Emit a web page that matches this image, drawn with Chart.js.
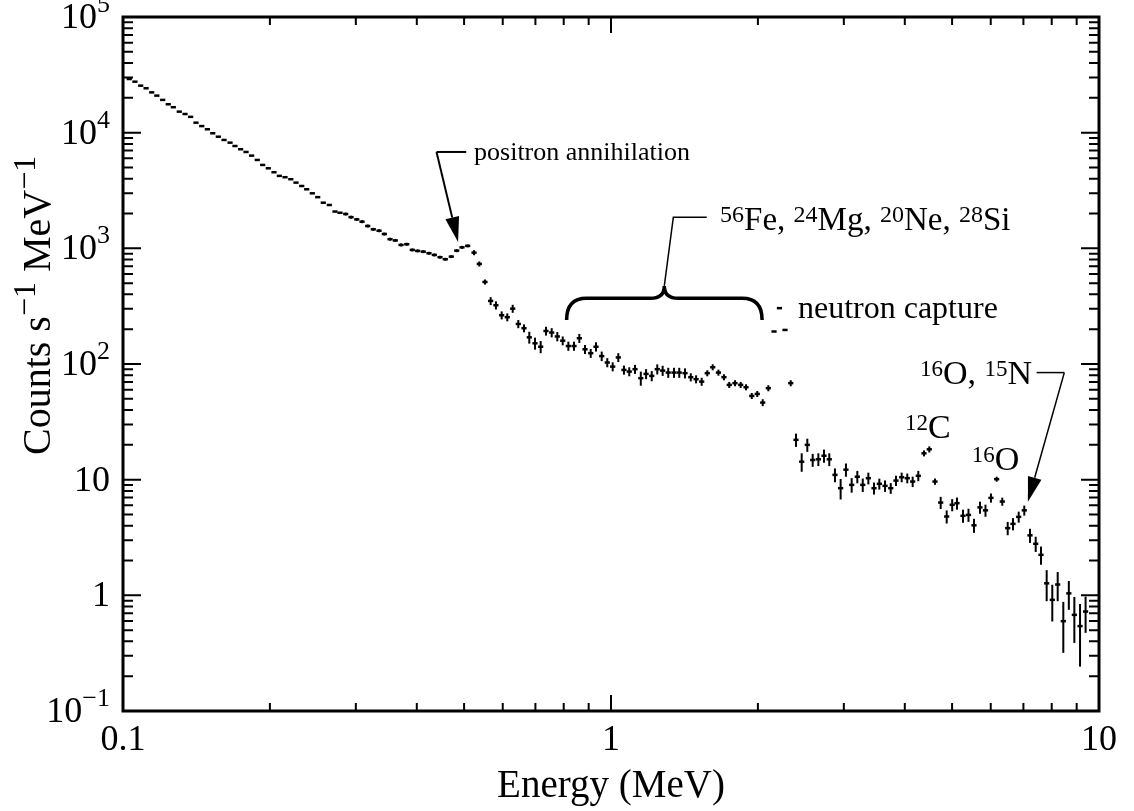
<!DOCTYPE html>
<html>
<head>
<meta charset="utf-8">
<script src="https://cdn.jsdelivr.net/npm/chart.js@4.4.0/dist/chart.umd.min.js"></script>
<style>
  body { margin: 0; background: #fff; }
</style>
</head>
<body>
<canvas id="spectrum" width="1134" height="811"></canvas>
<script>
// Energy bin centres (MeV)
const energy = [
  0.103, 0.1058, 0.1087, 0.1115, 0.1145, 0.1173, 0.1206, 0.1238, 0.1268, 0.1304,
  0.134, 0.1376, 0.1411, 0.145, 0.1489, 0.1527, 0.1568, 0.1611, 0.1657, 0.1696,
  0.1742, 0.1787, 0.1835, 0.1884, 0.1933, 0.1985, 0.2039, 0.2091, 0.2148, 0.2207,
  0.2262, 0.2324, 0.2379, 0.2443, 0.2506, 0.2573, 0.2647, 0.2719, 0.2784, 0.286,
  0.2933, 0.3013, 0.3089, 0.3173, 0.3258, 0.3347, 0.3432, 0.3525, 0.3614, 0.3713,
  0.3814, 0.3916, 0.4017, 0.4124, 0.4236, 0.4345, 0.4463, 0.4576, 0.4707, 0.4829,
  0.4951, 0.5085, 0.524, 0.5372, 0.5517, 0.5667, 0.581, 0.597, 0.613, 0.6289,
  0.6457, 0.6633, 0.6801, 0.6987, 0.7176, 0.7358, 0.7559, 0.7762, 0.7963, 0.8177,
  0.8399, 0.8612, 0.8846, 0.9087, 0.9317, 0.9571, 0.9826, 1.008, 1.035, 1.063,
  1.09, 1.12, 1.151, 1.18, 1.212, 1.244, 1.276, 1.31, 1.346, 1.38,
  1.418, 1.457, 1.494, 1.534, 1.575, 1.616, 1.66, 1.704, 1.747, 1.795,
  1.844, 1.891, 1.943, 1.994, 2.046, 2.101, 2.158, 2.214, 2.273, 2.335,
  2.394, 2.459, 2.525, 2.59, 2.66, 2.732, 2.801, 2.877, 2.955, 3.03,
  3.113, 3.197, 3.28, 3.368, 3.459, 3.547, 3.644, 3.743, 3.837, 3.941,
  4.047, 4.151, 4.263, 4.379, 4.49, 4.612, 4.738, 4.874, 5.002, 5.117,
  5.264, 5.402, 5.544, 5.703, 5.853, 6.006, 6.17, 6.336, 6.5, 6.665,
  6.846, 7.029, 7.221, 7.418, 7.605, 7.812, 8.022, 8.229, 8.45, 8.673,
  8.902, 9.144, 9.387
];

// Count rate (counts s^-1 MeV^-1)
const counts = [
  29100, 27600, 25500, 24200, 22300, 20900, 19200, 17600, 16600, 15200,
  14500, 13700, 12200, 11400, 10700, 9880, 9230, 8650, 8200, 7670,
  7190, 6810, 6330, 5810, 5260, 4920, 4550, 4230, 4120, 3960,
  3700, 3460, 3240, 2990, 2770, 2480, 2370, 2080, 2030, 1980,
  1860, 1780, 1700, 1560, 1460, 1420, 1330, 1200, 1170, 1070,
  1085, 969, 950, 936, 907, 877, 838, 805, 848, 955,
  1020, 1050, 918, 733, 512, 351, 322, 264, 254, 301,
  222, 204, 170, 151, 141, 193, 187, 173, 159, 143,
  143, 167, 134, 124, 141, 117, 103, 94.9, 114, 88.9,
  86.0, 90.2, 75.4, 82.1, 78.9, 90.2, 87.7, 84.3, 84.3, 84.3,
  83.3, 76.9, 73.9, 70.4, 83.3, 93.8, 84.3, 76.9, 66.0, 68.3,
  66.0, 63.0, 53.0, 55.1, 46.4, 61.8, 191, 304, 197, 68.3,
  22.1, 14.3, 20.0, 14.8, 15.0, 16.1, 15.0, 11.0, 8.44, 12.2,
  9.02, 10.6, 9.02, 10.3, 8.44, 9.20, 8.84, 8.44, 9.82, 10.5,
  10.3, 9.63, 10.8, 16.9, 18.3, 9.63, 6.34, 4.80, 6.06, 6.26,
  4.87, 4.96, 4.03, 5.76, 5.43, 6.96, 10.1, 6.47, 3.81, 4.15,
  4.77, 5.43, 3.30, 2.79, 2.24, 1.27, 0.914, 1.24, 0.598, 1.04,
  0.678, 0.542, 0.724
];

// 1-sigma uncertainty on each rate
const sigma = [
  291, 276, 255, 242, 223, 209, 192, 176, 166, 152,
  145, 137, 122, 114, 107, 99, 92, 87, 82, 77,
  72, 68, 63, 58, 53, 49, 46, 42, 41, 40,
  37, 35, 32, 30, 28, 25, 24, 21, 20, 59,
  56, 53, 51, 47, 44, 43, 40, 36, 35, 32,
  33, 29, 29, 28, 27, 26, 25, 24, 25, 29,
  31, 32, 46, 37, 26, 28, 26, 21, 20, 24,
  18, 16, 20, 18, 17, 17, 17, 16, 14, 13,
  13, 15, 12, 11, 13, 11, 9.3, 8.5, 10, 8.0,
  7.7, 8.1, 10.5, 8.2, 7.9, 9.0, 8.8, 8.4, 8.4, 8.4,
  8.3, 6.2, 5.9, 5.6, 5.0, 5.6, 5.1, 4.6, 4.0, 4.1,
  4.0, 3.8, 3.2, 3.3, 3.2, 3.7, 2, 3, 2, 4.1,
  2.9, 2.6, 2.6, 1.9, 1.9, 2.1, 1.9, 1.5, 1.7, 1.6,
  1.3, 1.3, 1.2, 1.2, 1.0, 1.0, 1.0, 0.9, 1.0, 1.0,
  1.0, 1.0, 1.1, 1.0, 1.1, 0.6, 0.76, 0.62, 0.73, 0.75,
  0.63, 0.64, 0.56, 0.69, 0.65, 0.63, 0.5, 0.52, 0.50, 0.50,
  0.52, 0.54, 0.46, 0.42, 0.40, 0.38, 0.32, 0.35, 0.28, 0.29,
  0.29, 0.30, 0.25
];

// axis ticks
const xTicks = [0.1, 1, 10];
const xTickLabels = ['0.1', '1', '10'];
const yTicks = [1e5, 1e4, 1e3, 100, 10, 1, 0.1];
const yTickLabels = [['10', '5'], ['10', '4'], ['10', '3'], ['10', '2'], ['10', ''], ['1', ''], ['10', '\u22121']];

const FONT = '"Liberation Serif", "Times New Roman", serif';

function setFont(ctx, size) { ctx.font = size + 'px ' + FONT; }

// draws text made of [string, isSuperscript] pieces
function drawRich(ctx, parts, x, y, size, supSize, rise, align) {
  let w = 0;
  parts.forEach(p => { setFont(ctx, p[1] ? supSize : size); w += ctx.measureText(p[0]).width; });
  let cx = align === 'right' ? x - w : align === 'center' ? x - w / 2 : x;
  ctx.textAlign = 'left';
  ctx.textBaseline = 'alphabetic';
  parts.forEach(p => {
    setFont(ctx, p[1] ? supSize : size);
    ctx.fillText(p[0], cx, p[1] ? y - rise : y);
    cx += ctx.measureText(p[0]).width;
  });
  return w;
}

function arrow(ctx, x0, y0, x1, y1, len, half) {
  const a = Math.atan2(y1 - y0, x1 - x0);
  const bx = x1 - len * Math.cos(a), by = y1 - len * Math.sin(a);
  ctx.beginPath();
  ctx.moveTo(x0, y0);
  ctx.lineTo(bx, by);
  ctx.stroke();
  ctx.beginPath();
  ctx.moveTo(x1, y1);
  ctx.lineTo(bx + half * Math.sin(a), by - half * Math.cos(a));
  ctx.lineTo(bx - half * Math.sin(a), by + half * Math.cos(a));
  ctx.closePath();
  ctx.fill();
}

const spectrumDecor = {
  id: 'spectrumDecor',
  beforeDatasetsDraw(chart) {
    const { ctx, chartArea: a, scales: { x, y } } = chart;
    ctx.save();
    ctx.beginPath();
    ctx.rect(a.left, a.top, a.right - a.left, a.bottom - a.top);
    ctx.clip();
    ctx.strokeStyle = '#000';
    ctx.lineWidth = 2;
    for (let i = 0; i < energy.length; i++) {
      const px = x.getPixelForValue(energy[i]);
      const lo = Math.max(counts[i] - sigma[i], 0.01);
      ctx.beginPath();
      ctx.moveTo(px, y.getPixelForValue(counts[i] + sigma[i]));
      ctx.lineTo(px, y.getPixelForValue(lo));
      ctx.stroke();
    }
    ctx.restore();
  },
  afterDraw(chart) {
    const { ctx, chartArea: a, scales: { x, y } } = chart;
    const P = (e, c) => [x.getPixelForValue(e), y.getPixelForValue(c)];
    ctx.save();
    ctx.strokeStyle = '#000';
    ctx.fillStyle = '#000';

    // inward ticks on all four sides
    ctx.lineWidth = 2;
    for (let d = -1; d <= 4; d++) {
      for (let m = 1; m <= 9; m++) {
        const v = m * Math.pow(10, d);
        if (v < 0.1 || v > 1e5) continue;
        const py = y.getPixelForValue(v);
        const len = m === 1 ? 18 : 10;
        ctx.beginPath();
        ctx.moveTo(a.left, py); ctx.lineTo(a.left + len, py);
        ctx.moveTo(a.right, py); ctx.lineTo(a.right - len, py);
        ctx.stroke();
      }
    }
    for (let d = -1; d <= 1; d++) {
      for (let m = 1; m <= 9; m++) {
        const v = m * Math.pow(10, d);
        if (v < 0.1 || v > 10) continue;
        const px = x.getPixelForValue(v);
        const len = m === 1 ? 16 : 8;
        ctx.beginPath();
        ctx.moveTo(px, a.bottom); ctx.lineTo(px, a.bottom - len);
        ctx.moveTo(px, a.top); ctx.lineTo(px, a.top + len);
        ctx.stroke();
      }
    }

    // frame
    ctx.lineWidth = 3;
    ctx.strokeRect(a.left, a.top, a.right - a.left, a.bottom - a.top);

    // tick labels
    yTicks.forEach((v, i) => {
      const py = y.getPixelForValue(v);
      const lab = yTickLabels[i];
      drawRich(ctx, [[lab[0], false], [lab[1], true]], a.left - 13, py + 11, 36, 26, 16, 'right');
    });
    xTicks.forEach((v, i) => {
      const px = x.getPixelForValue(v);
      drawRich(ctx, [[xTickLabels[i], false]], px, a.bottom + 39, 36, 26, 16, 'center');
    });

    // axis titles
    drawRich(ctx, [['Energy (MeV)', false]], (a.left + a.right) / 2, 797, 39, 26, 16, 'center');
    ctx.save();
    ctx.translate(50, 455);
    ctx.rotate(-Math.PI / 2);
    drawRich(ctx, [['Counts s', false], ['\u22121', true], [' MeV', false], ['\u22121', true]], 0, 0, 40, 32, 15, 'left');
    ctx.restore();

    // positron annihilation line
    ctx.lineWidth = 2;
    let c0 = P(0.439, 6810), c1 = P(0.505, 6810), tip = P(0.486, 1136);
    ctx.beginPath(); ctx.moveTo(c1[0], c1[1]); ctx.lineTo(c0[0], c0[1]); ctx.stroke();
    arrow(ctx, c0[0], c0[1], tip[0], tip[1], 25, 7);
    let t = P(0.524, 5808);
    drawRich(ctx, [['positron annihilation', false]], t[0], t[1], 26, 18, 8, 'left');

    // brace over the 0.8-2 MeV region
    const bl = P(0.811, 370), br = P(2.04, 370), bc = P(1.286, 370);
    const yEnd = y.getPixelForValue(240), yTip = y.getPixelForValue(473);
    const yH = bl[1];
    ctx.lineWidth = 3.5;
    ctx.beginPath();
    ctx.moveTo(bl[0], yEnd);
    ctx.quadraticCurveTo(bl[0], yH, bl[0] + 20, yH);
    ctx.lineTo(bc[0] - 14, yH);
    ctx.quadraticCurveTo(bc[0], yH, bc[0], yTip);
    ctx.quadraticCurveTo(bc[0], yH, bc[0] + 14, yH);
    ctx.lineTo(br[0] - 20, yH);
    ctx.quadraticCurveTo(br[0], yH, br[0], yEnd);
    ctx.stroke();
    ctx.lineWidth = 1.5;
    const l1 = P(1.342, 1857), l2 = P(1.571, 1857);
    ctx.beginPath();
    ctx.moveTo(bc[0], yTip); ctx.lineTo(l1[0], l1[1]); ctx.lineTo(l2[0], l2[1]);
    ctx.stroke();
    t = P(1.673, 1443);
    drawRich(ctx, [['56', true], ['Fe, ', false], ['24', true], ['Mg, ', false], ['20', true], ['Ne, ', false], ['28', true], ['Si', false]],
      t[0], t[1], 33, 24, 8, 'left');

    // neutron capture
    t = P(2.416, 250);
    drawRich(ctx, [['neutron capture', false]], t[0], t[1], 32, 22, 8, 'left');

    // carbon and oxygen lines
    t = P(4.005, 23.0);
    drawRich(ctx, [['12', true], ['C', false]], t[0], t[1], 34, 23, 8, 'left');
    t = P(5.484, 12.2);
    drawRich(ctx, [['16', true], ['O', false]], t[0], t[1], 34, 23, 8, 'left');
    t = P(4.297, 67.3);
    drawRich(ctx, [['16', true], ['O, ', false], ['15', true], ['N', false]], t[0], t[1], 34, 23, 8, 'left');
    ctx.lineWidth = 1.5;
    const n1 = P(7.45, 84.3), n2 = P(8.49, 84.3), nt = P(7.15, 6.43);
    ctx.beginPath(); ctx.moveTo(n1[0], n1[1]); ctx.lineTo(n2[0], n2[1]); ctx.stroke();
    arrow(ctx, n2[0], n2[1], nt[0], nt[1], 25, 7);

    ctx.restore();
  }
};

new Chart(document.getElementById('spectrum'), {
  type: 'scatter',
  data: {
    datasets: [{
      data: energy.map((e, i) => ({ x: e, y: counts[i] })),
      pointStyle: 'line',
      pointRadius: 2.6,
      pointBorderWidth: 2.5,
      borderColor: '#000',
      backgroundColor: '#000',
      showLine: false
    }]
  },
  options: {
    responsive: false,
    animation: false,
    layout: { padding: { left: 123, right: 35, top: 17, bottom: 100 } },
    plugins: { legend: { display: false }, tooltip: { enabled: false } },
    scales: {
      x: { type: 'logarithmic', min: 0.1, max: 10, display: false },
      y: { type: 'logarithmic', min: 0.1, max: 1e5, display: false }
    }
  },
  plugins: [spectrumDecor]
});
</script>
</body>
</html>
